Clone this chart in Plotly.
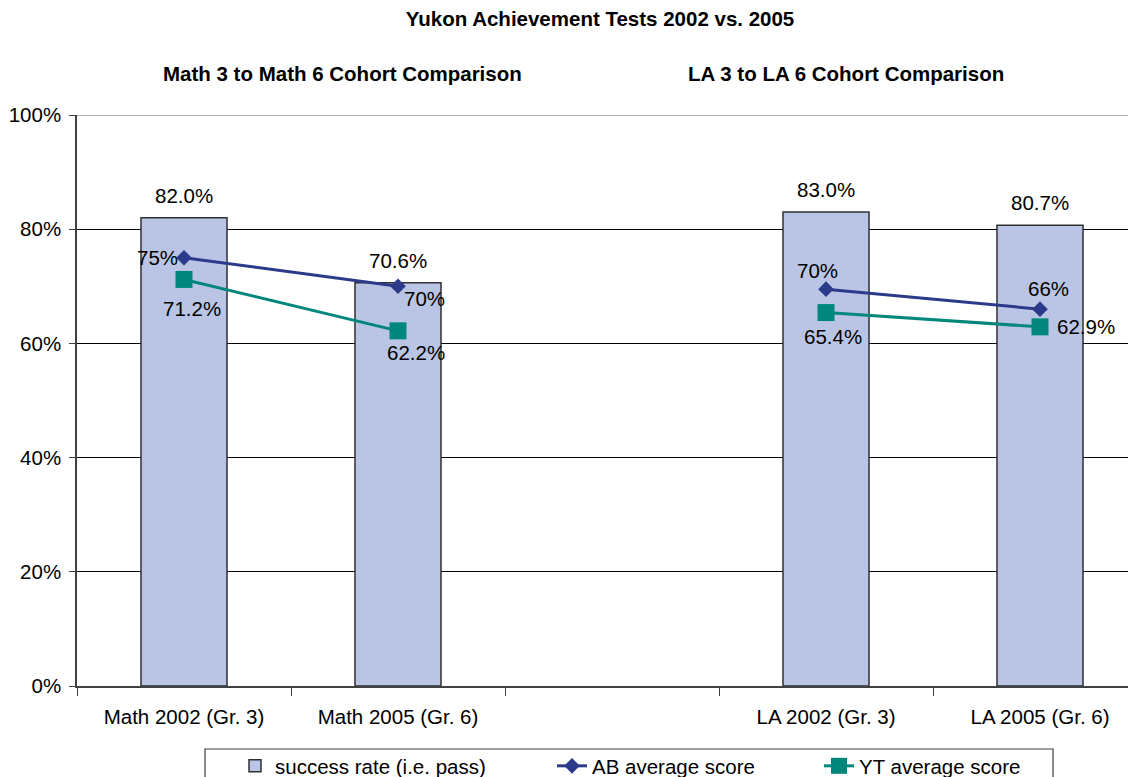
import plotly.graph_objects as go

categories = ["Math 2002 (Gr. 3)", "Math 2005 (Gr. 6)", " ", "LA 2002 (Gr. 3)", "LA 2005 (Gr. 6)"]
success_rate = [82.0, 70.6, None, 83.0, 80.7]
ab_average = [75.0, 70.0, None, 69.5, 66.0]
yt_average = [71.2, 62.2, None, 65.4, 62.9]
y_ticks = [0, 20, 40, 60, 80, 100]

title_main = "Yukon Achievement Tests 2002 vs. 2005"
subtitle_math = "Math 3 to Math 6 Cohort Comparison"
subtitle_la = "LA 3 to LA 6 Cohort Comparison"

FONT = "Liberation Sans, Arial, sans-serif"
FS = 20.5
FT = 20.5
BAR_FILL = "#BAC4E4"
NAVY = "#2B3A8A"
TEAL = "#00877C"

# page has an 8px body margin; figure is sized so the plot lands where intended
W, H = 1128, 769
PL, PT, PB = 69, 107, 91
PW, PH = W - PL, H - PT - PB
CAT_PX = 214  # pixel width of one category slot (plot is cropped on the right)

# label placement styles (xanchor, xshift, yshift)
ab_label_style = [("right", -4, 0), ("left", 4, -12), None, ("center", -9, 19), ("center", 8, 21)]
yt_label_style = [("center", 8, -29), ("center", 18, -22), None, ("center", 7, -24), ("left", 15, 0)]

fig = go.Figure()

fig.add_trace(go.Bar(
    x=categories, y=success_rate, name="success rate (i.e. pass)",
    marker=dict(color=BAR_FILL, line=dict(color="#303030", width=1.5)),
    width=0.402, legend="legend",
))
fig.add_trace(go.Scatter(
    x=categories, y=ab_average, name="AB average score", mode="lines+markers",
    line=dict(color=NAVY, width=3), marker=dict(symbol="diamond", size=12, color=NAVY),
    connectgaps=False, legend="legend2",
))
fig.add_trace(go.Scatter(
    x=categories, y=yt_average, name="YT average score", mode="lines+markers",
    line=dict(color=TEAL, width=3), marker=dict(symbol="square", size=17, color=TEAL),
    connectgaps=False, legend="legend3",
))

annotations = []
for c, v in zip(categories, success_rate):
    if v is None:
        continue
    annotations.append(dict(x=c, y=v, xref="x", yref="y", text=f"{v:.1f}%", showarrow=False,
                            xanchor="center", yanchor="bottom", yshift=9,
                            font=dict(family=FONT, size=FS, color="#000")))
for c, v, st in zip(categories, ab_average, ab_label_style):
    if v is None:
        continue
    xa, xs, ys = st
    annotations.append(dict(x=c, y=v, xref="x", yref="y", text=f"{v:.0f}%", showarrow=False,
                            xanchor=xa, yanchor="middle", xshift=xs, yshift=ys,
                            font=dict(family=FONT, size=FS, color="#000")))
for c, v, st in zip(categories, yt_average, yt_label_style):
    if v is None:
        continue
    xa, xs, ys = st
    annotations.append(dict(x=c, y=v, xref="x", yref="y", text=f"{v:.1f}%", showarrow=False,
                            xanchor=xa, yanchor="middle", xshift=xs, yshift=ys,
                            font=dict(family=FONT, size=FS, color="#000")))

annotations.append(dict(x=(342 - 77) / PW, y=1 + (115 - 73) / PH, xref="paper", yref="paper",
                        text=f"<b>{subtitle_math}</b>", showarrow=False, xanchor="center", yanchor="middle",
                        font=dict(family=FONT, size=FT, color="#000")))
annotations.append(dict(x=(846 - 77) / PW, y=1 + (115 - 73) / PH, xref="paper", yref="paper",
                        text=f"<b>{subtitle_la}</b>", showarrow=False, xanchor="center", yanchor="middle",
                        font=dict(family=FONT, size=FT, color="#000")))

legend_common = dict(orientation="h", xanchor="left", y=-(746 - 686) / PH, yanchor="top",
                     borderwidth=0, bgcolor="rgba(0,0,0,0)",
                     font=dict(family=FONT, size=FS, color="#000"))

fig.update_layout(
    width=W, height=H,
    margin=dict(l=PL, r=0, t=PT, b=PB, autoexpand=False),
    paper_bgcolor="white", plot_bgcolor="white",
    font=dict(family=FONT, size=FS, color="#000"),
    title=dict(text=f"<b>{title_main}</b>", x=(600 - 8) / W, xref="container", xanchor="center",
               y=1 - (19 - 8) / H, yref="container", yanchor="middle",
               font=dict(family=FONT, size=FT, color="#000")),
    barmode="overlay",
    showlegend=True,
    legend=dict(x=(235 - 77) / PW, **legend_common),
    legend2=dict(x=(552 - 77) / PW, **legend_common),
    legend3=dict(x=(819 - 77) / PW, **legend_common),
    annotations=annotations,
    xaxis=dict(type="category", categoryorder="array", categoryarray=categories,
               range=[-0.5, -0.5 + PW / CAT_PX], showline=True, linecolor="#404040", linewidth=1.5,
               ticks="outside", tickson="boundaries", ticklen=8, tickcolor="#404040",
               showgrid=False, ticklabelstandoff=12, fixedrange=True),
    yaxis=dict(range=[0, 100], tickvals=y_ticks, ticktext=[f"{t}%" for t in y_ticks],
               showline=True, linecolor="#404040", linewidth=1.5,
               ticks="outside", ticklen=6, tickcolor="#404040", ticklabelstandoff=4,
               showgrid=True, gridcolor="#000", gridwidth=1, zeroline=False, fixedrange=True),
    shapes=[
        dict(type="line", xref="paper", yref="y", x0=0, x1=1, y0=100, y1=100,
             line=dict(color="#999999", width=1.5)),
        dict(type="rect", xref="paper", yref="paper",
             x0=(205 - 77) / PW, x1=(1053 - 77) / PW,
             y0=-(749 - 686) / PH, y1=-(800 - 686) / PH,
             line=dict(color="#404040", width=1.2), fillcolor="rgba(0,0,0,0)", layer="above"),
    ],
)

fig.write_html("out.html")
